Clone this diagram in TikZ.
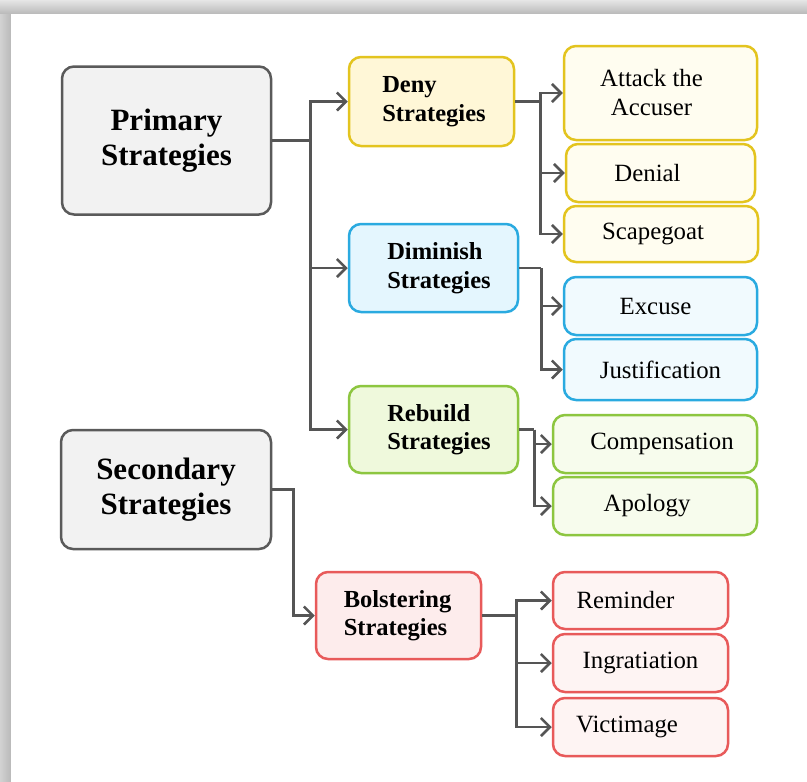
\documentclass[tikz,border=0pt]{standalone}
\usepackage{fontspec}
\setmainfont{Liberation Serif}
\usetikzlibrary{arrows.meta}
\definecolor{conn}{HTML}{555555}
\definecolor{greyline}{HTML}{5A5A5A}
\definecolor{greyfill}{HTML}{F2F2F2}
\definecolor{ylline}{HTML}{E3C41F}
\definecolor{ylfill}{HTML}{FFF7D7}
\definecolor{ylleaf}{HTML}{FFFDF0}
\definecolor{blline}{HTML}{2AAAE0}
\definecolor{blfill}{HTML}{E4F6FE}
\definecolor{blleaf}{HTML}{F1FAFE}
\definecolor{grline}{HTML}{8DC640}
\definecolor{grfill}{HTML}{EFF9DC}
\definecolor{grleaf}{HTML}{F7FCED}
\definecolor{rdline}{HTML}{E85A5A}
\definecolor{rdfill}{HTML}{FDECEC}
\definecolor{rdleaf}{HTML}{FEF4F3}
\tikzset{
  box/.style={draw, rounded corners=12pt, line width=2.5pt, inner sep=0pt},
  topbox/.style={box, draw=greyline, fill=greyfill, align=center,
    font=\bfseries\fontsize{31}{35}\selectfont},
  midbox/.style={box, align=left, font=\bfseries\fontsize{24.5}{28.5}\selectfont},
  leafbox/.style={box, align=center, font=\fontsize{24.8}{29}\selectfont},
  ylmid/.style={midbox, draw=ylline, fill=ylfill},
  blmid/.style={midbox, draw=blline, fill=blfill},
  grmid/.style={midbox, draw=grline, fill=grfill},
  rdmid/.style={midbox, draw=rdline, fill=rdfill},
  ylleafbox/.style={leafbox, draw=ylline, fill=ylleaf},
  blleafbox/.style={leafbox, draw=blline, fill=blleaf},
  grleafbox/.style={leafbox, draw=grline, fill=grleaf},
  rdleafbox/.style={leafbox, draw=rdline, fill=rdleaf},
  conline/.style={draw=conn, line width=2.5pt, line join=miter},
  arr/.style={conline, -{Straight Barb[length=9pt,width=18pt]}},
}
\begin{document}
\begin{tikzpicture}[x=1pt,y=-1pt]
\useasboundingbox (0,0) rectangle (807,782);
% frame shadow
\shade[top color=gray!20, bottom color=gray!55] (0,0) rectangle (807,14);
\shade[left color=gray!35, right color=gray!55] (0,14) rectangle (11,782);
\fill[white] (11,14) rectangle (807,782);

% top level
\node[topbox, minimum width=209pt, minimum height=148pt] (primary) at (166.5,140.5) {Primary\\Strategies};
\node[topbox, minimum width=210pt, minimum height=119pt] (secondary) at (166,489.5) {Secondary\\Strategies};

% middle level
\node[ylmid, minimum width=165pt, minimum height=89pt] (deny) at (431.5,101.5) {\hspace*{5pt}Deny\\\hspace*{5pt}Strategies};
\node[blmid, minimum width=169pt, minimum height=88pt] (dimin) at (433.5,268) {\hspace*{11pt}Diminish\\\hspace*{11pt}Strategies};
\node[grmid, minimum width=169pt, minimum height=87pt] (rebuild) at (433.5,429.5) {\hspace*{11pt}Rebuild\\\hspace*{11pt}Strategies};
\node[rdmid, minimum width=165pt, minimum height=87pt] (bolster) at (398.5,615.5) {Bolstering\\Strategies\hspace*{6pt}};

% leaves
\node[ylleafbox, minimum width=193pt, minimum height=94pt] (attack) at (660.5,93) {Attack the\hspace*{18pt}\\Accuser\hspace*{18pt}};
\node[ylleafbox, minimum width=189pt, minimum height=58pt] (denial) at (660.5,173) {Denial\hspace*{26pt}};
\node[ylleafbox, minimum width=194pt, minimum height=56pt] (scape) at (661,234) {Scapegoat\hspace*{16pt}};
\node[blleafbox, minimum width=193pt, minimum height=58pt] (excuse) at (660.5,306) {Excuse\hspace*{10pt}};
\node[blleafbox, minimum width=193pt, minimum height=61pt] (justif) at (660.5,369.5) {Justification};
\node[grleafbox, minimum width=204pt, minimum height=58pt] (comp) at (655,444) {\hspace*{14pt}Compensation};
\node[grleafbox, minimum width=204pt, minimum height=58pt] (apol) at (655,506) {Apology\hspace*{16pt}};
\node[rdleafbox, minimum width=175pt, minimum height=57pt] (remind) at (640.5,600.5) {Reminder\hspace*{30pt}};
\node[rdleafbox, minimum width=175pt, minimum height=58pt] (ingr) at (640.5,663) {Ingratiation};
\node[rdleafbox, minimum width=175pt, minimum height=58pt] (victim) at (640.5,727) {Victimage\hspace*{27pt}};

% connectors
\draw[conline] (primary.east) -- ++(38,0) coordinate (pj);
\draw[arr] (pj) |- (deny.west);
\draw[arr] (pj) |- (dimin.west);
\draw[arr] (pj) |- (rebuild.west);

\draw[arr] (secondary.east) -- ++(21,0) |- (bolster.west);

\draw[conline] (deny.east) -- ++(25,0) coordinate (dj);
\draw[arr] (dj) |- (attack.west);
\draw[arr] (dj) |- (denial.west);
\draw[arr] (dj) |- (scape.west);

\draw[conline] (dimin.east) -- ++(22,0) coordinate (mj);
\draw[arr] (mj) |- (excuse.west);
\draw[arr] (mj) |- (justif.west);

\draw[conline] (rebuild.east) -- ++(15,0) coordinate (rj);
\draw[arr] (rj) |- (comp.west);
\draw[arr] (rj) |- (apol.west);

\draw[conline] (bolster.east) -- ++(34,0) coordinate (bj);
\draw[arr] (bj) |- (remind.west);
\draw[arr] (bj) |- (ingr.west);
\draw[arr] (bj) |- (victim.west);
\end{tikzpicture}
\end{document}
